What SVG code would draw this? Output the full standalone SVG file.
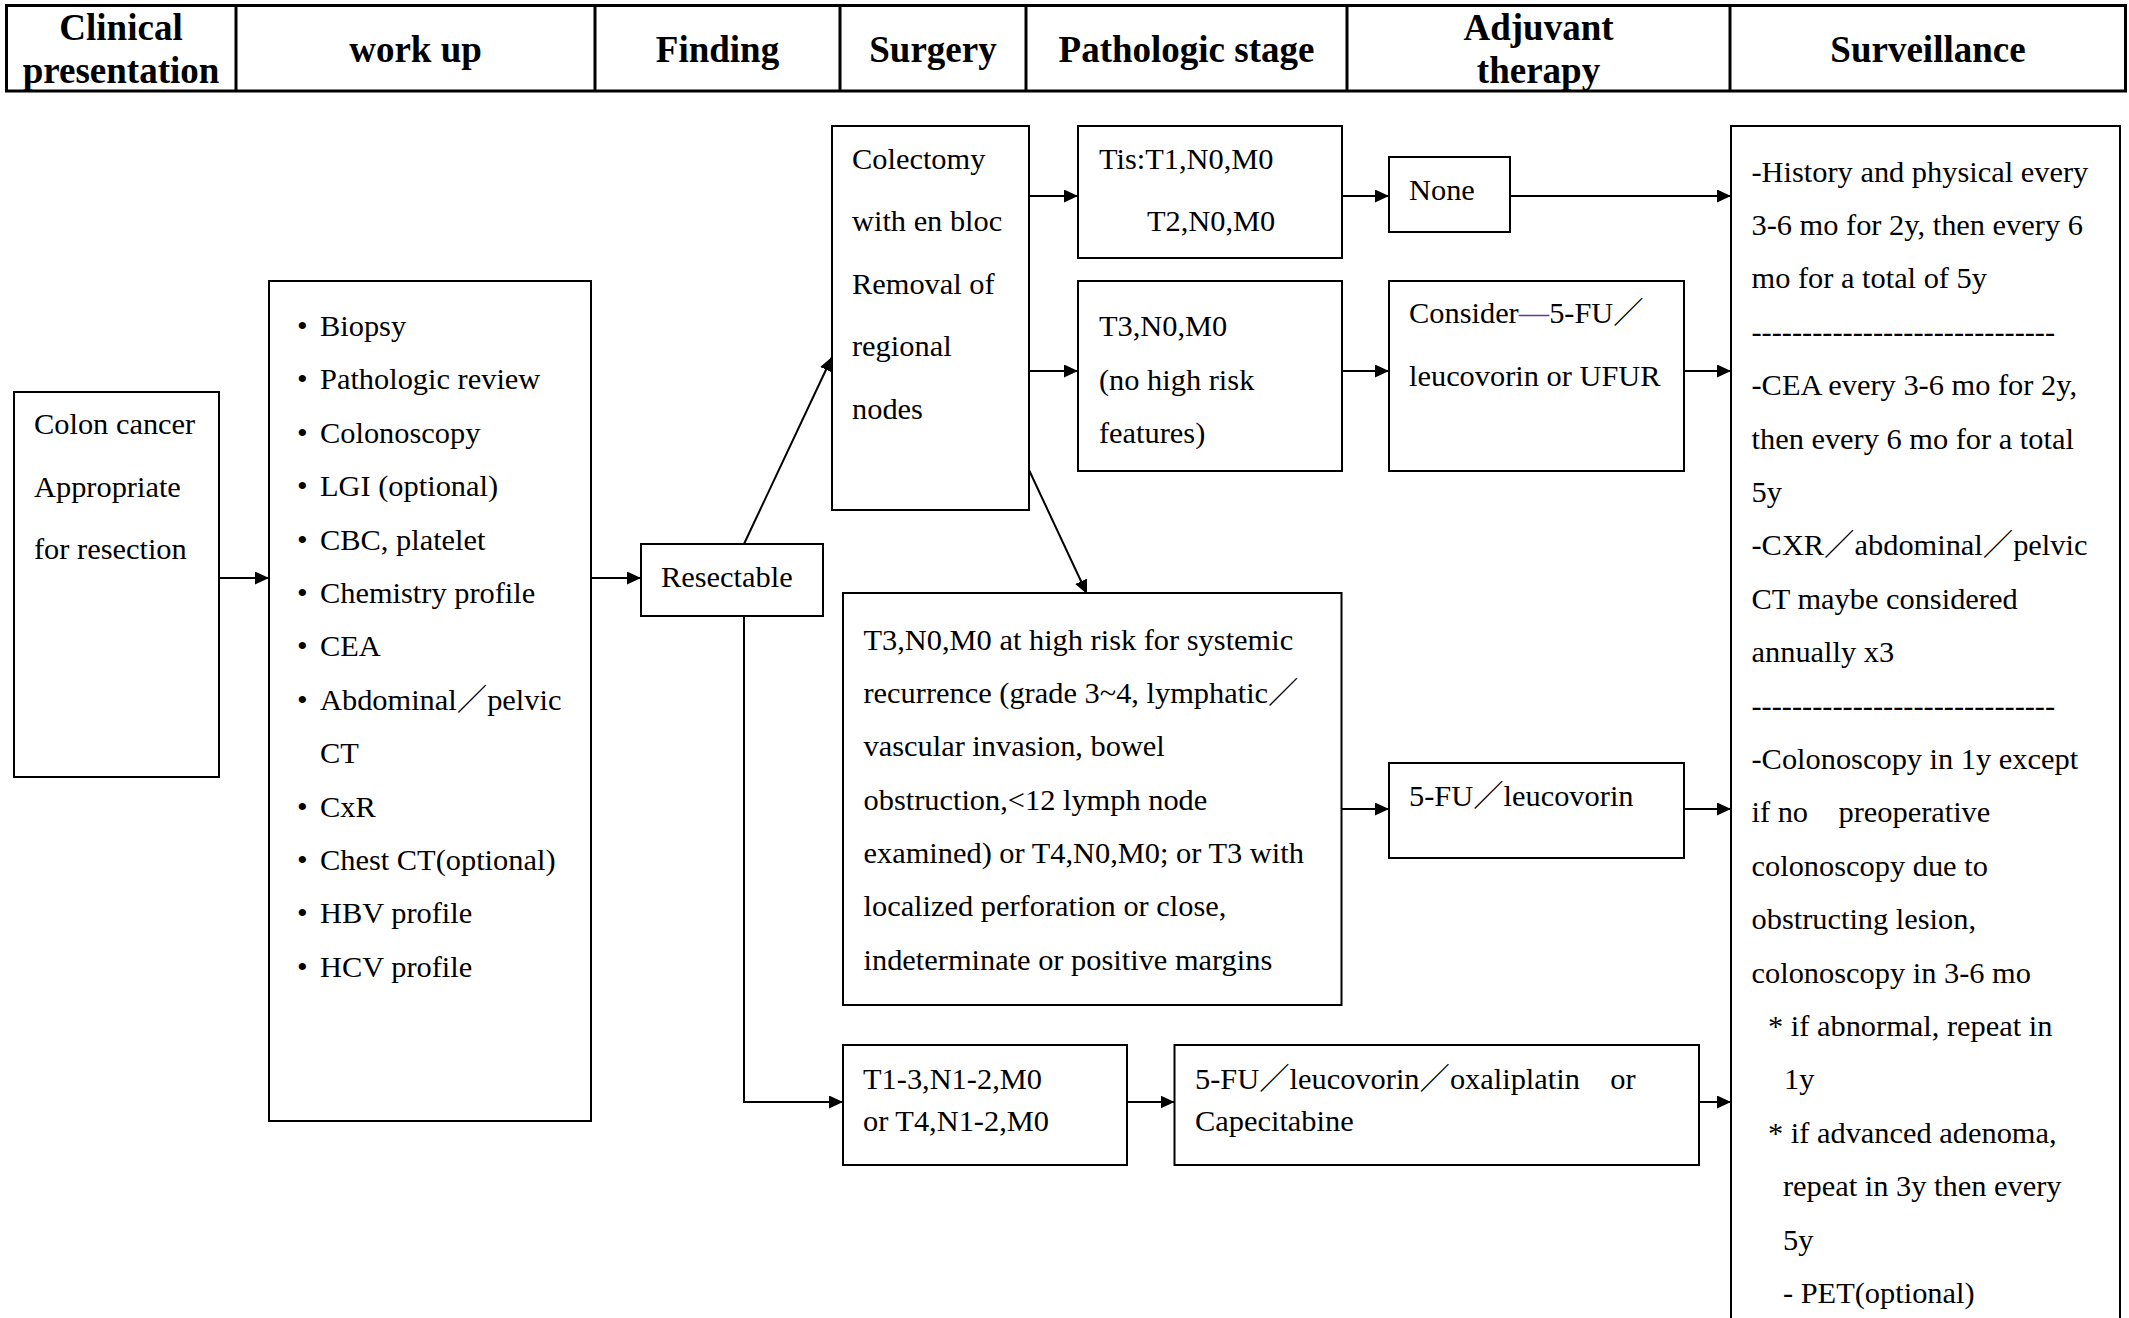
<svg xmlns="http://www.w3.org/2000/svg" width="2129" height="1318" viewBox="0 0 2129 1318">
<style>
.bg{fill:#ffffff}
.box{fill:#ffffff;stroke:#000;stroke-width:2}
.hdr{fill:none;stroke:#000;stroke-width:3}
.hd{font-family:"Liberation Serif","Times New Roman",serif;font-weight:bold;font-size:37px;fill:#000;text-anchor:middle}
.t{font-family:"Liberation Serif","Times New Roman","Noto Sans CJK TC",serif;font-size:30.4px;fill:#000}
.c{fill:none;stroke:#000;stroke-width:2}
</style>
<defs>
<marker id="ah" markerUnits="userSpaceOnUse" markerWidth="15" markerHeight="13" refX="14" refY="6.5" orient="auto">
<path d="M0,0 L14,6.5 L0,13 z" fill="#000"/>
</marker>
</defs>
<rect class="bg" x="0" y="0" width="2129" height="1318"/>

<g id="header">
<rect class="hdr" x="6.5" y="5.5" width="2119" height="85.5"/>
<line class="hdr" x1="236" y1="5.5" x2="236" y2="91"/>
<line class="hdr" x1="595" y1="5.5" x2="595" y2="91"/>
<line class="hdr" x1="840" y1="5.5" x2="840" y2="91"/>
<line class="hdr" x1="1026" y1="5.5" x2="1026" y2="91"/>
<line class="hdr" x1="1347" y1="5.5" x2="1347" y2="91"/>
<line class="hdr" x1="1730" y1="5.5" x2="1730" y2="91"/>
<text class="hd" x="121" y="40">Clinical</text>
<text class="hd" x="121" y="83">presentation</text>
<text class="hd" x="415.5" y="62">work up</text>
<text class="hd" x="717.5" y="62">Finding</text>
<text class="hd" x="933" y="62">Surgery</text>
<text class="hd" x="1186.5" y="62">Pathologic stage</text>
<text class="hd" x="1538.5" y="40">Adjuvant</text>
<text class="hd" x="1538.5" y="83">therapy</text>
<text class="hd" x="1928" y="62">Surveillance</text>
</g>

<g id="connectors">
<line class="c" x1="219" y1="578" x2="269" y2="578" marker-end="url(#ah)"/>
<line class="c" x1="591" y1="578" x2="641" y2="578" marker-end="url(#ah)"/>
<line class="c" x1="744" y1="544" x2="832" y2="357" marker-end="url(#ah)"/>
<polyline class="c" points="744,616 744,1102 843,1102" marker-end="url(#ah)"/>
<line class="c" x1="1029" y1="196" x2="1078" y2="196" marker-end="url(#ah)"/>
<line class="c" x1="1029" y1="371" x2="1078" y2="371" marker-end="url(#ah)"/>
<line class="c" x1="1029" y1="470" x2="1087" y2="594" marker-end="url(#ah)"/>
<line class="c" x1="1342" y1="196" x2="1389" y2="196" marker-end="url(#ah)"/>
<line class="c" x1="1510" y1="196" x2="1731" y2="196" marker-end="url(#ah)"/>
<line class="c" x1="1342" y1="371" x2="1389" y2="371" marker-end="url(#ah)"/>
<line class="c" x1="1684" y1="371" x2="1731" y2="371" marker-end="url(#ah)"/>
<line class="c" x1="1341.5" y1="809" x2="1389" y2="809" marker-end="url(#ah)"/>
<line class="c" x1="1684" y1="809" x2="1731" y2="809" marker-end="url(#ah)"/>
<line class="c" x1="1127" y1="1102" x2="1174.5" y2="1102" marker-end="url(#ah)"/>
<line class="c" x1="1699" y1="1102" x2="1731" y2="1102" marker-end="url(#ah)"/>
</g>

<g id="colon">
<rect class="box" x="14" y="392" width="205" height="385"/>
<text class="t"><tspan x="34" y="434">Colon cancer</tspan><tspan x="34" y="497">Appropriate</tspan><tspan x="34" y="559">for resection</tspan></text>
</g>

<g id="workup">
<rect class="box" x="269" y="281" width="322" height="840"/>
<text class="t">
<tspan x="297" y="336">•</tspan><tspan x="320" y="336">Biopsy</tspan>
<tspan x="297" y="389.4">•</tspan><tspan x="320" y="389.4">Pathologic review</tspan>
<tspan x="297" y="442.8">•</tspan><tspan x="320" y="442.8">Colonoscopy</tspan>
<tspan x="297" y="496.2">•</tspan><tspan x="320" y="496.2">LGI (optional)</tspan>
<tspan x="297" y="549.6">•</tspan><tspan x="320" y="549.6">CBC, platelet</tspan>
<tspan x="297" y="603">•</tspan><tspan x="320" y="603">Chemistry profile</tspan>
<tspan x="297" y="656.4">•</tspan><tspan x="320" y="656.4">CEA</tspan>
<tspan x="297" y="709.8">•</tspan><tspan x="320" y="709.8">Abdominal／pelvic</tspan>
<tspan x="320" y="763.2">CT</tspan>
<tspan x="297" y="816.6">•</tspan><tspan x="320" y="816.6">CxR</tspan>
<tspan x="297" y="870">•</tspan><tspan x="320" y="870">Chest CT(optional)</tspan>
<tspan x="297" y="923.4">•</tspan><tspan x="320" y="923.4">HBV profile</tspan>
<tspan x="297" y="976.8">•</tspan><tspan x="320" y="976.8">HCV profile</tspan>
</text>
</g>

<g id="resectable">
<rect class="box" x="641" y="544" width="182" height="72"/>
<text class="t" x="661" y="587">Resectable</text>
</g>

<g id="colectomy">
<rect class="box" x="832" y="126" width="197" height="384"/>
<text class="t"><tspan x="852" y="169">Colectomy</tspan><tspan x="852" y="231">with en bloc</tspan><tspan x="852" y="294">Removal of</tspan><tspan x="852" y="356">regional</tspan><tspan x="852" y="419">nodes</tspan></text>
</g>

<g id="stage-tis">
<rect class="box" x="1078" y="126" width="264" height="132"/>
<text class="t"><tspan x="1099" y="169">Tis:T1,N0,M0</tspan><tspan x="1147" y="231">T2,N0,M0</tspan></text>
</g>

<g id="stage-t3">
<rect class="box" x="1078" y="281" width="264" height="190"/>
<text class="t"><tspan x="1099" y="336">T3,N0,M0</tspan><tspan x="1099" y="390">(no high risk</tspan><tspan x="1099" y="443">features)</tspan></text>
</g>

<g id="none">
<rect class="box" x="1389" y="157" width="121" height="75"/>
<text class="t" x="1409" y="200">None</text>
</g>

<g id="consider">
<rect class="box" x="1389" y="281" width="295" height="190"/>
<text class="t"><tspan x="1409" y="323">Consider</tspan><tspan fill="#7030A0">—</tspan><tspan>5-FU／</tspan><tspan x="1409" y="386">leucovorin or UFUR</tspan></text>
</g>

<g id="stage-highrisk">
<rect class="box" x="843" y="593" width="498.5" height="412"/>
<text class="t">
<tspan x="863.5" y="650">T3,N0,M0 at high risk for systemic</tspan>
<tspan x="863.5" y="703">recurrence (grade 3~4, lymphatic／</tspan>
<tspan x="863.5" y="756">vascular invasion, bowel</tspan>
<tspan x="863.5" y="810">obstruction,&lt;12 lymph node</tspan>
<tspan x="863.5" y="863">examined) or T4,N0,M0; or T3 with</tspan>
<tspan x="863.5" y="916">localized perforation or close,</tspan>
<tspan x="863.5" y="970">indeterminate or positive margins</tspan>
</text>
</g>

<g id="fu-leucovorin">
<rect class="box" x="1389" y="763" width="295" height="95"/>
<text class="t" x="1409" y="806">5-FU／leucovorin</text>
</g>

<g id="stage-n12">
<rect class="box" x="843" y="1045" width="284" height="120"/>
<text class="t"><tspan x="863" y="1089">T1-3,N1-2,M0</tspan><tspan x="863" y="1131">or T4,N1-2,M0</tspan></text>
</g>

<g id="folfox">
<rect class="box" x="1174.5" y="1045" width="524.5" height="120"/>
<text class="t" xml:space="preserve"><tspan x="1195" y="1089">5-FU／leucovorin／oxaliplatin    or</tspan><tspan x="1195" y="1131">Capecitabine</tspan></text>
</g>

<g id="surveillance">
<rect class="box" x="1731" y="126" width="389" height="1220"/>
<text class="t" xml:space="preserve">
<tspan x="1751.5" y="181.5">-History and physical every</tspan>
<tspan x="1751.5" y="234.9">3-6 mo for 2y, then every 6</tspan>
<tspan x="1751.5" y="288.3">mo for a total of 5y</tspan>
<tspan x="1751.5" y="341.7">------------------------------</tspan>
<tspan x="1751.5" y="395.1">-CEA every 3-6 mo for 2y,</tspan>
<tspan x="1751.5" y="448.5">then every 6 mo for a total</tspan>
<tspan x="1751.5" y="501.9">5y</tspan>
<tspan x="1751.5" y="555.3">-CXR／abdominal／pelvic</tspan>
<tspan x="1751.5" y="608.7">CT maybe considered</tspan>
<tspan x="1751.5" y="662.1">annually x3</tspan>
<tspan x="1751.5" y="715.5">------------------------------</tspan>
<tspan x="1751.5" y="768.9">-Colonoscopy in 1y except</tspan>
<tspan x="1751.5" y="822.3">if no    preoperative</tspan>
<tspan x="1751.5" y="875.7">colonoscopy due to</tspan>
<tspan x="1751.5" y="929.1">obstructing lesion,</tspan>
<tspan x="1751.5" y="982.5">colonoscopy in 3-6 mo</tspan>
<tspan x="1768" y="1035.9">* if abnormal, repeat in</tspan>
<tspan x="1784" y="1089.3">1y</tspan>
<tspan x="1768" y="1142.7">* if advanced adenoma,</tspan>
<tspan x="1783" y="1196.1">repeat in 3y then every</tspan>
<tspan x="1783" y="1249.5">5y</tspan>
<tspan x="1783" y="1302.9">- PET(optional)</tspan>
</text>
</g>
</svg>
